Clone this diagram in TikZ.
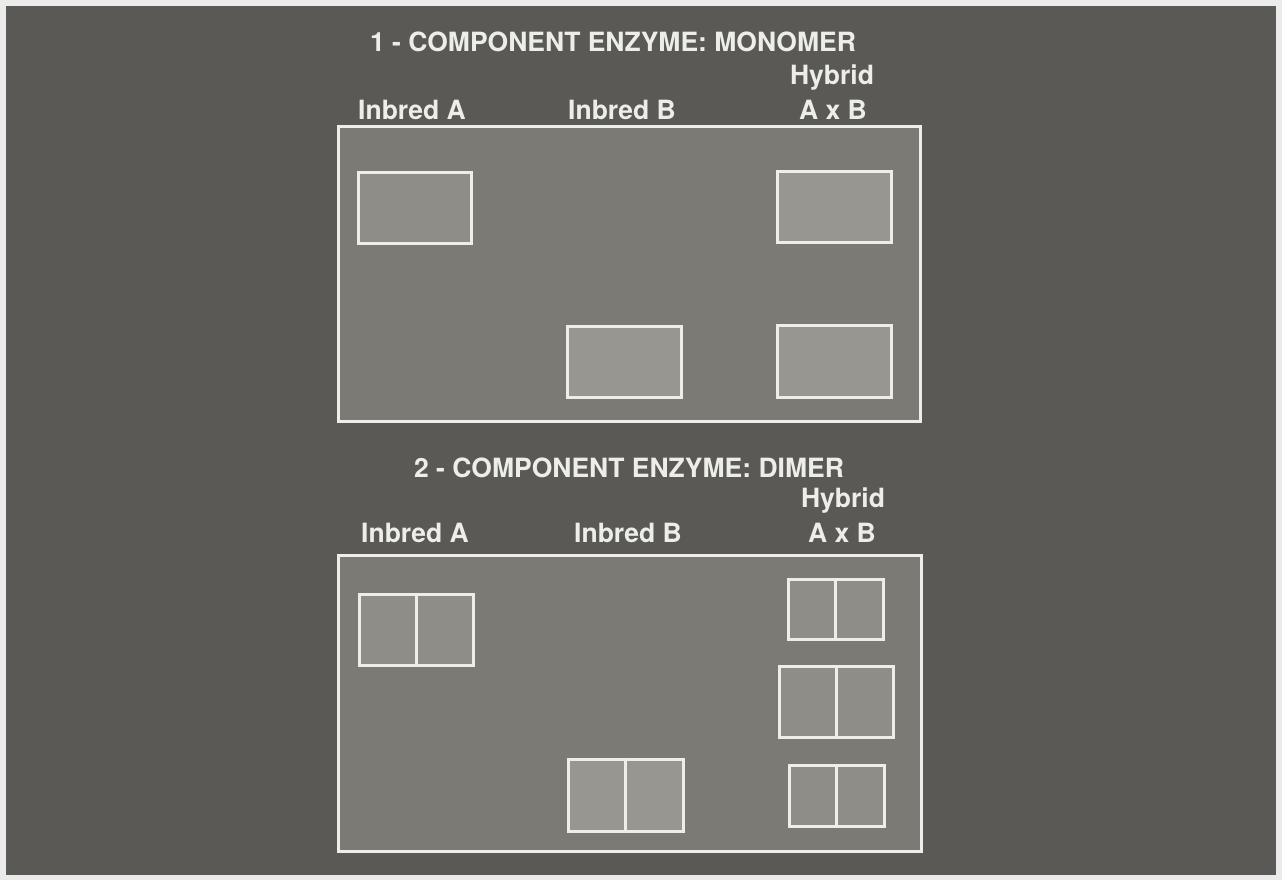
\documentclass[tikz,border=0pt]{standalone}
\usepackage{fontspec}
\setmainfont{TeX Gyre Heros}
\definecolor{bgdark}{HTML}{5A5955}
\definecolor{panelgray}{HTML}{7B7A75}
\definecolor{boxgray}{HTML}{8E8D88}
\definecolor{boxgrayB}{HTML}{979691}
\definecolor{chalk}{HTML}{EEEEE8}
\begin{document}
\begin{tikzpicture}[x=1pt,y=-1pt,
  lbl/.style={text=chalk,font=\fontsize{26.5}{28}\selectfont\bfseries,anchor=base,inner sep=0pt},
  panel/.style={draw=chalk,line width=3pt,fill=panelgray},
  band/.style={draw=chalk,line width=3pt,fill=boxgray,rectangle,inner sep=0pt},
  divider/.style={draw=chalk,line width=3pt}]
\useasboundingbox (0,0) rectangle (1282,880);
\fill[white!92!black] (0,0) rectangle (1282,880);
\fill[bgdark] (6,6) rectangle (1276,875);
% ---------- panel 1 ----------
\node[lbl] (t1) at (613,52) {1 - COMPONENT ENZYME: MONOMER};
\node[lbl] (a1) at (412,120) {Inbred A};
\node[lbl] (b1) at (622,120) {Inbred B};
\node[lbl] (h1) at (832,85) {Hybrid};
\node[lbl] (x1) at (833,120) {A x B};
\draw[panel] (338,127) rectangle (920,421);
\node[band,minimum width=113pt,minimum height=71pt] (m1) at (414.5,207.5) {};
\node[band,fill=boxgrayB,minimum width=114pt,minimum height=71pt] (m2) at (624,361.5) {};
\node[band,fill=boxgrayB,minimum width=114pt,minimum height=71pt] (m3) at (834,206.5) {};
\node[band,fill=boxgrayB,minimum width=114pt,minimum height=72pt] (m4) at (834,361) {};
% ---------- panel 2 ----------
\node[lbl] (t2) at (629,477) {2 - COMPONENT ENZYME: DIMER};
\node[lbl] (a2) at (415,542) {Inbred A};
\node[lbl] (b2) at (628,542) {Inbred B};
\node[lbl] (h2) at (843,507) {Hybrid};
\node[lbl] (x2) at (842,542) {A x B};
\draw[panel] (338,555) rectangle (921,851);
\node[band,minimum width=114pt,minimum height=71pt] (d1) at (416,629.5) {};
\node[band,fill=boxgrayB,minimum width=115pt,minimum height=72pt] (d2) at (625.5,795) {};
\node[band,minimum width=95pt,minimum height=60pt] (d3) at (835.5,609) {};
\node[band,minimum width=114pt,minimum height=71pt] (d4) at (836,701.5) {};
\node[band,minimum width=95pt,minimum height=61pt] (d5) at (836.5,795.5) {};
\draw[divider] (d1.north) -- (d1.south);
\draw[divider] (d2.north) -- (d2.south);
\draw[divider] (d3.north) -- (d3.south);
\draw[divider] (d4.north) -- (d4.south);
\draw[divider] (d5.north) -- (d5.south);
\end{tikzpicture}
\end{document}
